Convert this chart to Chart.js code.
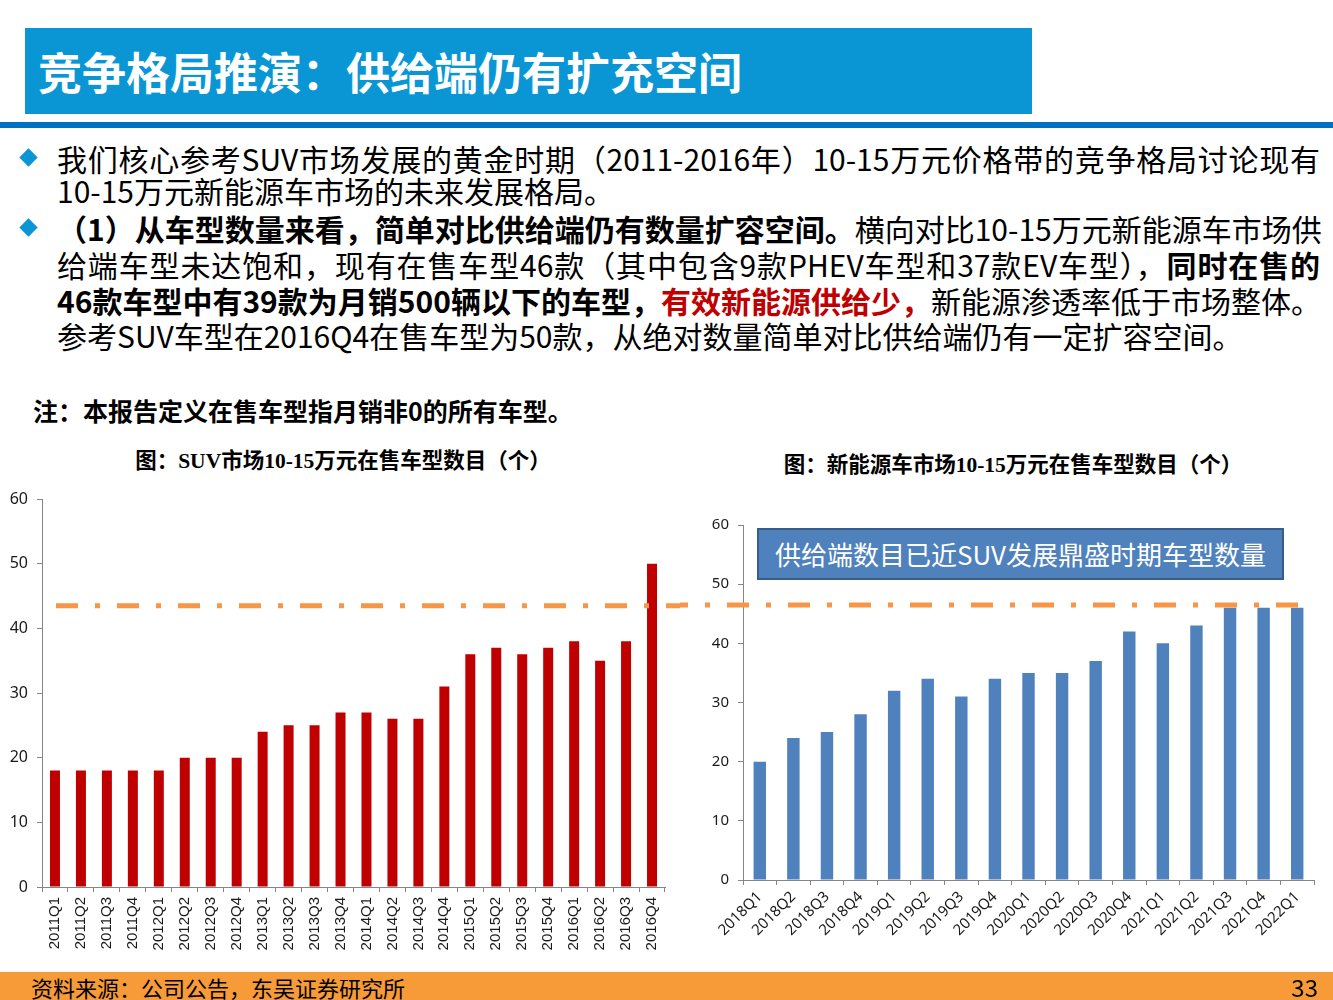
<!DOCTYPE html>
<html>
<head>
<meta charset="utf-8">
<script src="https://cdn.jsdelivr.net/npm/chart.js@4.4.1/dist/chart.umd.min.js"></script>
<style>
body{margin:0;width:1333px;height:1000px;position:relative;overflow:hidden;background:#fff;
  font-family:"Noto Sans CJK SC","Noto Sans",sans-serif;color:#000;}
.abs{position:absolute;white-space:nowrap;}
#head{left:25px;top:28px;width:1007px;height:86px;background:#0A96D4;}
#headText{left:38px;top:46px;line-height:50px;font-size:44px;font-weight:700;color:#fff;}
#rule{left:0;top:122px;width:1333px;height:6px;background:#0070C0;}
.dia{width:13px;height:13px;background:#0A96D4;transform:rotate(45deg);}
.ln{left:57px;font-size:30px;line-height:36px;}
.j{width:1263px;text-align:justify;text-align-last:justify;}
.red{color:#C00000;}
#note{left:33px;top:395px;font-size:25px;line-height:30px;font-weight:700;}
.ctitle{width:600px;text-align:center;font-family:"Liberation Serif","Noto Sans CJK SC",serif;
  font-weight:700;font-size:21.5px;line-height:26px;}
#box{left:757px;top:528px;width:523px;height:48px;background:#4F81BD;border:2px solid #385D8A;
  color:#fff;font-size:26px;line-height:48px;text-align:center;}
#foot{left:0;top:972px;width:1333px;height:28px;background:#F79A38;}
#src{left:31px;top:973px;font-size:22px;line-height:28px;}
#pg{right:15px;top:973px;font-size:24px;line-height:28px;}
canvas{position:absolute;}
</style>
</head>
<body>
<div id="head" class="abs"></div>
<div id="headText" class="abs">竞争格局推演：供给端仍有扩充空间</div>
<div id="rule" class="abs"></div>

<div class="abs dia" style="left:22px;top:151px;"></div>
<div class="abs ln j" style="top:140px;">我们核心参考SUV市场发展的黄金时期（2011-2016年）10-15万元价格带的竞争格局讨论现有</div>
<div class="abs ln" style="top:172px;">10-15万元新能源车市场的未来发展格局。</div>
<div class="abs dia" style="left:22px;top:221px;"></div>
<div class="abs ln j" style="top:210px;"><b>（1）从车型数量来看，简单对比供给端仍有数量扩容空间。</b>横向对比10-15万元新能源车市场供</div>
<div class="abs ln j" style="top:246px;">给端车型未达饱和，现有在售车型46款（其中包含9款PHEV车型和37款EV车型），<b>同时在售的</b></div>
<div class="abs ln j" style="top:282px;"><b>46款车型中有39款为月销500辆以下的车型，</b><b class="red">有效新能源供给少，</b>新能源渗透率低于市场整体。</div>
<div class="abs ln" style="top:317px;">参考SUV车型在2016Q4在售车型为50款，从绝对数量简单对比供给端仍有一定扩容空间。</div>

<div id="note" class="abs">注：本报告定义在售车型指月销非0的所有车型。</div>

<div class="abs ctitle" style="left:43px;top:448px;">图：SUV市场10-15万元在售车型数目（个）</div>
<div class="abs ctitle" style="left:713px;top:452px;">图：新能源车市场10-15万元在售车型数目（个）</div>

<canvas id="suvChart" width="680" height="490" style="left:0;top:480px;"></canvas>
<canvas id="nevChart" width="653" height="490" style="left:680px;top:480px;"></canvas>

<div id="box" class="abs">供给端数目已近SUV发展鼎盛时期车型数量</div>

<div id="foot" class="abs"></div>
<div id="src" class="abs">资料来源：公司公告，东吴证券研究所</div>
<div id="pg" class="abs">33</div>

<script>
// data
var suvQuarters = ['2011Q1','2011Q2','2011Q3','2011Q4','2012Q1','2012Q2','2012Q3','2012Q4',
  '2013Q1','2013Q2','2013Q3','2013Q4','2014Q1','2014Q2','2014Q3','2014Q4',
  '2015Q1','2015Q2','2015Q3','2015Q4','2016Q1','2016Q2','2016Q3','2016Q4'];
var suvModels = [18,18,18,18,18,20,20,20,24,25,25,27,27,26,26,31,36,37,36,37,38,35,38,50];

var nevQuarters = ['2018Q1','2018Q2','2018Q3','2018Q4','2019Q1','2019Q2','2019Q3','2019Q4',
  '2020Q1','2020Q2','2020Q3','2020Q4','2021Q1','2021Q2','2021Q3','2021Q4','2022Q1'];
var nevModels = [20,24,25,28,32,34,31,34,35,35,37,42,40,43,46,46,46];

var yTicks = [0,10,20,30,40,50,60];
// level of the orange dash-dot guide line on each chart's own axis
var suvRefLevel = 43.5;
var nevRefLevel = 46.5;

Chart.defaults.font.family = "'Noto Sans', sans-serif";
Chart.defaults.color = '#1a1a1a';

var refLine = {
    id : 'refLine',
    afterDatasetsDraw : function(chart, args, opts) {
        var y = chart.scales.y.getPixelForValue(opts.value);
        var ctx = chart.ctx;
        ctx.save();
        ctx.strokeStyle = '#F79646';
        ctx.lineWidth = 5;
        ctx.setLineDash([22,17,5,17]);
        ctx.lineDashOffset = opts.phase;
        ctx.beginPath();
        ctx.moveTo(opts.x0, y);
        ctx.lineTo(opts.x1, y);
        ctx.stroke();
        ctx.restore();
    }
};

function makeChart(id, labels, values, color, cfg) {
    return new Chart(document.getElementById(id), {
        type : 'bar',
        data : {
            labels : labels,
            datasets : [{ data : values, backgroundColor : color,
                categoryPercentage : 1, barPercentage : cfg.bar }]
        },
        options : {
            responsive : false,
            animation : false,
            devicePixelRatio : 1,
            layout : { padding : cfg.pad },
            plugins : {
                legend : { display : false },
                tooltip : { enabled : false },
                refLine : cfg.ref
            },
            scales : {
                x : {
                    grid : { drawOnChartArea : false, color : '#868686', tickLength : 5, offset : true },
                    border : { color : '#868686' },
                    ticks : { autoSkip : false, minRotation : cfg.rot, maxRotation : cfg.rot,
                        padding : cfg.xpad, font : cfg.xfont, color : '#1a1a1a' },
                    afterFit : function(s) { s.height = cfg.xh; }
                },
                y : {
                    min : 0, max : 60,
                    grid : { drawOnChartArea : false, color : '#868686', tickLength : 5 },
                    border : { color : '#868686' },
                    ticks : { padding : 9, font : { size : cfg.ysize }, color : '#1a1a1a' },
                    afterBuildTicks : function(s) { s.ticks = yTicks.map(function(v){ return { value : v }; }); },
                    afterFit : function(s) { s.width = cfg.yw; }
                }
            }
        },
        plugins : [refLine]
    });
}

makeChart('suvChart', suvQuarters, suvModels, '#C00000', {
    bar : 0.385, pad : { left : 0, top : 19, right : 15, bottom : 0 },
    rot : 90, xpad : 5, xfont : { family : "'Liberation Sans', sans-serif", size : 15 },
    xh : 83, yw : 42, ysize : 16,
    ref : { value : suvRefLevel, x0 : 56, x1 : 680, phase : 0 }
});

makeChart('nevChart', nevQuarters, nevModels, '#4F81BD', {
    bar : 0.37, pad : { left : 0, top : 45, right : 19, bottom : 0 },
    rot : 45, xpad : 3, xfont : { size : 15 },
    xh : 90, yw : 63, ysize : 15,
    ref : { value : nevRefLevel, x0 : 0, x1 : 618, phase : 14 }
});
</script>
</body>
</html>
